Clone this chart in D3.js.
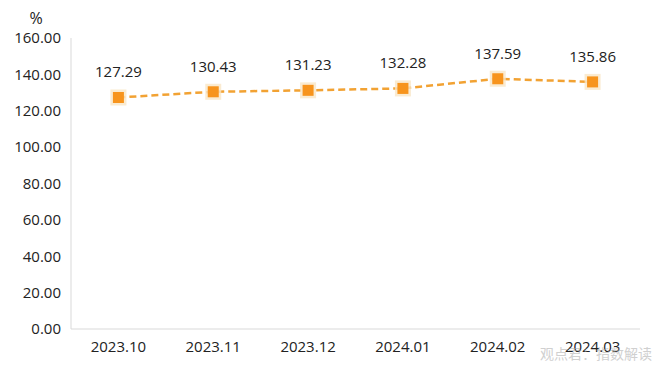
<!DOCTYPE html>
<html><head><meta charset="utf-8">
<script src="https://cdn.jsdelivr.net/npm/d3@7"></script>
<style>body{margin:0;background:#fff;}svg{display:block;font-family:"Open Sans","Noto Sans",sans-serif;}</style>
</head><body><svg id="c" width="660" height="371"></svg>
<script>
const categories = ["2023.10","2023.11","2023.12","2024.01","2024.02","2024.03"];
const values = [127.29,130.43,131.23,132.28,137.59,135.86];
const yTicks = [0,20,40,60,80,100,120,140,160];
const unitLabel = "%";
const watermark = "观点君：指数解读";

const svg = d3.select("#c");
const pL = 71, pR = 640, pT = 38, pB = 329;
const x = d3.scaleBand().domain(categories).range([pL, pR]);
const y = d3.scaleLinear().domain([0,160]).range([pB, pT]);

svg.append("line").attr("x1",pL).attr("x2",pL).attr("y1",pT).attr("y2",pB).attr("stroke","#d9d9d9").attr("stroke-width",1);
svg.append("line").attr("x1",pL).attr("x2",pR).attr("y1",pB).attr("y2",pB).attr("stroke","#d9d9d9").attr("stroke-width",1);

const yAxis = svg.append("g").attr("transform",`translate(${pL},0)`)
  .call(d3.axisLeft(y).tickValues(yTicks).tickFormat(d3.format(".2f")).tickSize(0).tickPadding(10));
yAxis.select(".domain").remove();
yAxis.selectAll("text").attr("font-size",15).attr("fill","#222").attr("font-family","'Open Sans','Noto Sans',sans-serif");

const xAxis = svg.append("g").attr("transform",`translate(0,${pB})`)
  .call(d3.axisBottom(x).tickSize(0).tickPadding(12));
xAxis.select(".domain").remove();
xAxis.selectAll("text").attr("font-size",15).attr("fill","#222").attr("font-family","'Open Sans','Noto Sans',sans-serif");

svg.append("text").attr("x",36).attr("y",24).attr("text-anchor","middle").attr("font-size",16).attr("fill","#222").text(unitLabel);

const cx = d => x(d) + x.bandwidth()/2;
const line = d3.line().x((d,i)=>cx(categories[i])).y(d=>y(d));
svg.append("path").datum(values).attr("d",line).attr("fill","none")
  .attr("stroke","#F2A233").attr("stroke-width",2.5).attr("stroke-dasharray","7,4");

const pts = svg.append("g").selectAll("g").data(values).join("g")
  .attr("transform",(d,i)=>`translate(${cx(categories[i])},${y(d)})`);
pts.append("rect").attr("x",-8).attr("y",-8).attr("width",16).attr("height",16).attr("fill","#F9E6C6").attr("opacity",0.8);
pts.append("rect").attr("x",-5.5).attr("y",-5.5).attr("width",11).attr("height",11).attr("fill","#F7941D");
pts.append("text").attr("y",-20).attr("text-anchor","middle").attr("font-size",15).attr("fill","#222")
  .text(d=>d3.format(".2f")(d));

svg.append("text").attr("x",652).attr("y",359).attr("text-anchor","end").attr("font-size",14)
  .attr("fill","#aaa").attr("opacity",0.55).attr("font-family","'Noto Sans CJK SC',sans-serif").text(watermark);
</script></body></html>
